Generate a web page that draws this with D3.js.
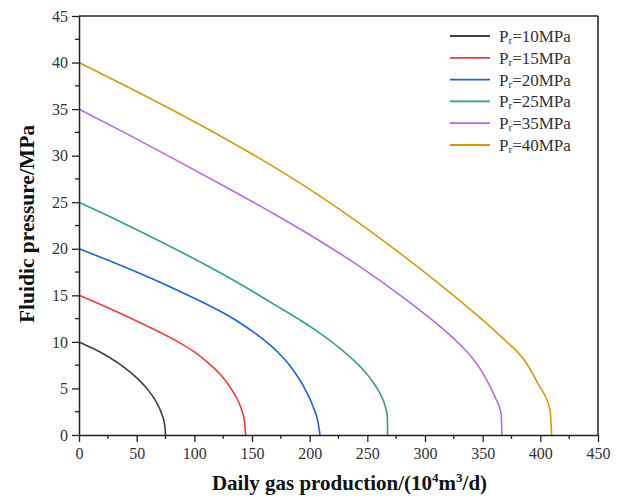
<!DOCTYPE html>
<html><head><meta charset="utf-8">
<script src="https://cdn.jsdelivr.net/npm/d3@7"></script>
<style>body{margin:0;background:#fff}svg{display:block}</style>
</head><body>
<svg id="c" width="625" height="497"></svg>
<script>
const seriesNames = ["10", "15", "20", "25", "35", "40"];
const seriesColors = ["#404040", "#f23c3c", "#1a64dc", "#2fa86b", "#b56be8", "#d49a0a"];
const q10 = [0, 12, 25.4, 38, 47, 54.3, 60, 65, 68.8, 72, 74, 74.7, 75];
const p10 = [10, 9.31, 8.4, 7.37, 6.48, 5.62, 4.82, 3.95, 3.13, 2.18, 1.27, 0.69, 0];
const q15 = [0, 27, 54, 83, 100, 112, 124, 132.4, 138, 141, 143.5, 144.5];
const p15 = [15, 13.55, 12.0, 10.2, 8.93, 7.75, 6.31, 4.88, 3.65, 2.72, 1.47, 0];
const q20 = [0, 28, 54, 83, 112, 135, 155.5, 172, 184.4, 194, 203, 207, 209];
const p20 = [20, 18.63, 17.28, 15.68, 13.97, 12.41, 10.67, 8.94, 7.2, 5.38, 3.04, 1.52, 0];
const q25 = [0, 27, 54, 83, 112, 140, 170, 190, 205, 226, 240, 249.4, 257, 262.4, 265.5, 267.3, 267.6];
const p25 = [25, 23.43, 21.81, 20.01, 18.12, 16.19, 13.97, 12.47, 11.27, 9.34, 7.8, 6.58, 5.29, 4.1, 3.08, 2.0, 0];
const q35 = [0, 42, 83, 126, 170, 206, 242, 280, 301.5, 320, 336, 346, 353.5, 361, 366, 366.7];
const p35 = [35, 32.31, 29.6, 26.72, 23.68, 21.05, 18.21, 14.87, 12.83, 10.91, 8.99, 7.45, 5.9, 4.0, 2.33, 0];
const q40 = [0, 41, 83, 123, 170, 205, 242, 287, 328, 365, 388, 398, 408.4, 409.8];
const p40 = [40, 37.46, 34.77, 32.09, 28.71, 25.98, 22.84, 18.7, 14.64, 10.68, 7.7, 5.5, 2.7, 0];
const xTicks = [0, 50, 100, 150, 200, 250, 300, 350, 400, 450];
const yTicks = [0, 5, 10, 15, 20, 25, 30, 35, 40, 45];

const qs = [q10, q15, q20, q25, q35, q40];
const ps = [p10, p15, p20, p25, p35, p40];

const svg = d3.select("#c");
const L = 79, R = 598, T = 16, B = 435;
const x = d3.scaleLinear().domain([0, 450]).range([L, R]);
const y = d3.scaleLinear().domain([0, 45]).range([B, T]);
const font = "'Liberation Serif', 'Times New Roman', serif";

// curves
const g = svg.append("g");
const line = d3.line().x(d => x(d[0])).y(d => y(d[1])).curve(d3.curveMonotoneX);
qs.forEach((qq, i) => {
  const pts = qq.map((v, j) => [v, ps[i][j]]);
  g.append("path").attr("d", line(pts)).attr("fill", "none")
    .attr("stroke", seriesColors[i]).attr("stroke-width", 1.6)
    .attr("stroke-linejoin", "round");
});

// frame
svg.append("line").attr("x1", L).attr("x2", R).attr("y1", T).attr("y2", T).attr("stroke", "#222").attr("stroke-width", 1.5);
svg.append("line").attr("x1", R).attr("x2", R).attr("y1", T).attr("y2", B).attr("stroke", "#222").attr("stroke-width", 1.5);

// minor ticks
const xMinor = d3.range(25, 450, 50);
const yMinor = d3.range(2.5, 45, 5);
svg.append("g").selectAll("line").data(xMinor).join("line")
  .attr("x1", d => x(d)).attr("x2", d => x(d)).attr("y1", B).attr("y2", B + 4)
  .attr("stroke", "#222").attr("stroke-width", 1.3);
svg.append("g").selectAll("line").data(yMinor).join("line")
  .attr("x1", L).attr("x2", L - 4).attr("y1", d => y(d)).attr("y2", d => y(d))
  .attr("stroke", "#222").attr("stroke-width", 1.3);

// axes
const xAxis = svg.append("g").attr("transform", `translate(0,${B})`)
  .call(d3.axisBottom(x).tickValues(xTicks).tickSize(7).tickSizeOuter(0).tickPadding(6));
const yAxis = svg.append("g").attr("transform", `translate(${L},0)`)
  .call(d3.axisLeft(y).tickValues(yTicks).tickSize(7).tickSizeOuter(0).tickPadding(4));
[xAxis, yAxis].forEach(a => {
  a.attr("font-family", font);
  a.select(".domain").attr("stroke", "#222").attr("stroke-width", 1.5);
  a.selectAll(".tick line").attr("stroke", "#222").attr("stroke-width", 1.3);
  a.selectAll("text").attr("font-family", font).attr("font-size", 16).attr("fill", "#333");
});

// axis titles
const xt = svg.append("text").attr("x", (L + R) / 2 + 11).attr("y", 490)
  .attr("text-anchor", "middle").attr("font-family", font).attr("font-size", 21)
  .attr("font-weight", "bold").attr("fill", "#111");
xt.append("tspan").text("Daily gas production/(10");
xt.append("tspan").text("4").attr("font-size", 13).attr("dy", -8);
xt.append("tspan").text("m").attr("dy", 8);
xt.append("tspan").text("3").attr("font-size", 13).attr("dy", -8);
xt.append("tspan").text("/d)").attr("dy", 8);

svg.append("text").attr("transform", `translate(34,224) rotate(-90)`)
  .attr("text-anchor", "middle").attr("font-family", font).attr("font-size", 21.5)
  .attr("font-weight", "bold").attr("fill", "#111").text("Fluidic pressure/MPa");

// legend
const lg = svg.append("g");
seriesNames.forEach((n, i) => {
  const yy = 36 + i * 21.8;
  lg.append("line").attr("x1", 450).attr("x2", 490).attr("y1", yy).attr("y2", yy)
    .attr("stroke", seriesColors[i]).attr("stroke-width", 1.8);
  const t = lg.append("text").attr("x", 499).attr("y", yy + 6)
    .attr("font-family", font).attr("font-size", 17).attr("fill", "#333");
  t.append("tspan").text("P");
  t.append("tspan").text("r").attr("font-size", 11).attr("dy", 2);
  t.append("tspan").text("=" + n + "MPa").attr("dy", -2);
});
</script>
</body></html>
